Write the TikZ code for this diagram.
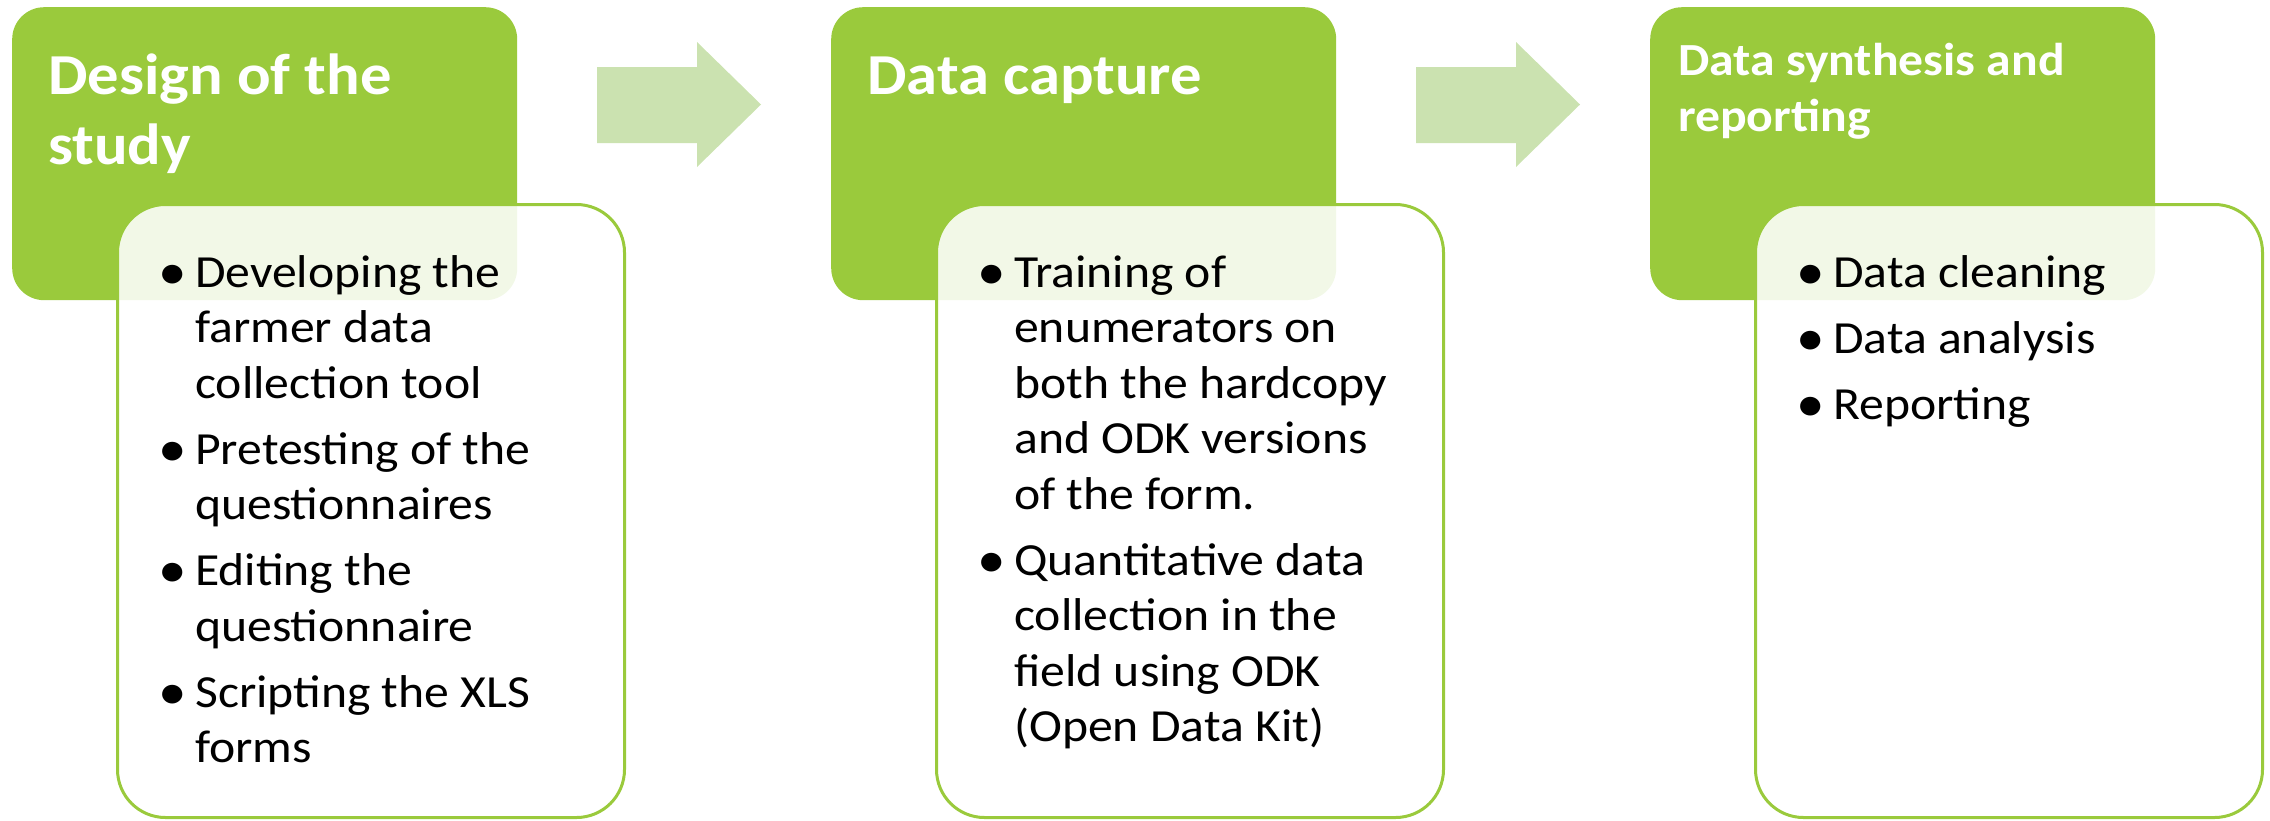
\documentclass[tikz,border=0pt]{standalone}
\usepackage{fontspec}
\setmainfont[FakeStretch=1.08]{Carlito}
\definecolor{grn}{HTML}{9ACA3C}
\definecolor{arrfill}{HTML}{CBE2B0}
\newcommand\bul{\makebox[30pt][l]{\hspace{-7pt}\raisebox{-2pt}{\scalebox{1.15}{\textbullet}}}}
\begin{document}
\begin{tikzpicture}[x=1pt,y=-1pt,
  headbox/.style={fill=grn, draw=none, rounded corners=32pt, anchor=north west,
    minimum width=505pt, minimum height=293pt, inner sep=0pt},
  bodybox/.style={fill=white, fill opacity=0.88, draw=grn, line width=3pt,
    rounded corners=48pt, anchor=north west, minimum width=507pt,
    minimum height=613pt, inner sep=0pt},
  titletext/.style={text=white, font=\bfseries\fontsize{58}{70}\selectfont,
    anchor=base west, inner sep=0pt},
  smalltitle/.style={text=white, font=\bfseries\fontsize{46}{56}\selectfont,
    anchor=base west, inner sep=0pt},
  bodytext/.style={text=black, font=\fontsize{46}{55.5}\selectfont,
    anchor=base west, inner sep=0pt},
  flowarrow/.style={fill=arrfill, draw=none}]
\useasboundingbox (0,0) rectangle (2270,820);

% stage 1
\node[headbox] (h1) at (12,7) {};
\node[bodybox] (b1) at (116,203) {};
\node[titletext] (t1) at (48,94) {\begin{tabular}[t]{@{}l@{}}Design of the\\study\end{tabular}};
\node[bodytext] (l1) at (165,287) {\begin{tabular}[t]{@{}l@{}l@{}}
\bul & Developing the\\
 & farmer data\\
 & collection tool\\[10.5pt]
\bul & Pretesting of the\\
 & questionnaires\\[10.5pt]
\bul & Editing the\\
 & questionnaire\\[10.5pt]
\bul & Scripting the XLS\\
 & forms
\end{tabular}};

% stage 2
\node[headbox] (h2) at (831,7) {};
\node[bodybox] (b2) at (935,203) {};
\node[titletext] (t2) at (867,94) {Data capture};
\node[bodytext] (l2) at (984,287) {\begin{tabular}[t]{@{}l@{}l@{}}
\bul & Training of\\
 & enumerators on\\
 & both the hardcopy\\
 & and ODK versions\\
 & of the form.\\[10.5pt]
\bul & Quantitative data\\
 & collection in the\\
 & field using ODK\\
 & (Open Data Kit)
\end{tabular}};

% stage 3
\node[headbox] (h3) at (1650,7) {};
\node[bodybox] (b3) at (1754,203) {};
\node[smalltitle] (t3) at (1678,75) {\begin{tabular}[t]{@{}l@{}}Data synthesis and\\reporting\end{tabular}};
\node[bodytext] (l3) at (1803,287) {\begin{tabular}[t]{@{}l@{}l@{}}
\bul & Data cleaning\\[10.5pt]
\bul & Data analysis\\[10.5pt]
\bul & Reporting
\end{tabular}};

% arrows
\fill[flowarrow] (597,67) -- (697,67) -- (697,42) -- (761,104.5) -- (697,167) -- (697,143) -- (597,143) -- cycle;
\fill[flowarrow] (1416,67) -- (1516,67) -- (1516,42) -- (1580,104.5) -- (1516,167) -- (1516,143) -- (1416,143) -- cycle;
\end{tikzpicture}
\end{document}
